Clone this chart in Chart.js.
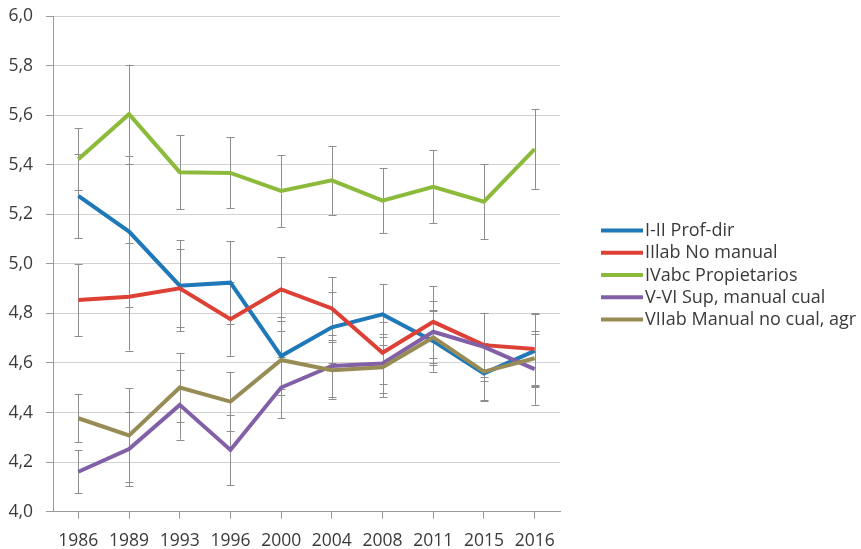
<!DOCTYPE html>
<html>
<head>
<meta charset="utf-8">
<script src="https://cdn.jsdelivr.net/npm/chart.js@4.4.1/dist/chart.umd.min.js"></script>
<style>
  html, body { margin: 0; padding: 0; background: #ffffff; }
  #wrap { width: 861px; height: 549px; }
</style>
</head>
<body>
<div id="wrap"><canvas id="c" width="861" height="549"></canvas></div>
<script>
// Survey years on the category axis
const years = ['1986', '1989', '1993', '1996', '2000', '2004', '2008', '2011', '2015', '2016'];

// Value axis labels (decimal comma)
const yTickLabels = ['4,0', '4,2', '4,4', '4,6', '4,8', '5,0', '5,2', '5,4', '5,6', '5,8', '6,0'];

// Series names
const seriesNames = [
  'I-II Prof-dir',
  'IIlab No manual',
  'IVabc Propietarios',
  'V-VI Sup, manual cual',
  'VIIab Manual no cual, agr'
];

// Mean values per class
const profDir      = [5.274, 5.130, 4.912, 4.924, 4.628, 4.744, 4.796, 4.688, 4.558, 4.649];
const noManual     = [4.854, 4.867, 4.901, 4.777, 4.897, 4.820, 4.641, 4.766, 4.672, 4.656];
const propietarios = [5.422, 5.604, 5.370, 5.367, 5.294, 5.337, 5.255, 5.311, 5.251, 5.463];
const supManual    = [4.161, 4.253, 4.431, 4.249, 4.501, 4.588, 4.598, 4.726, 4.665, 4.575];
const manualNoCual = [4.377, 4.308, 4.501, 4.444, 4.612, 4.571, 4.583, 4.703, 4.565, 4.619];

// Half-width of the confidence interval for each mean
const profDirErr      = [0.170, 0.305, 0.183, 0.168, 0.158, 0.143, 0.122, 0.123, 0.110, 0.147];
const noManualErr     = [0.146, 0.217, 0.157, 0.148, 0.129, 0.127, 0.125, 0.144, 0.130, 0.146];
const propietariosErr = [0.125, 0.200, 0.150, 0.143, 0.145, 0.139, 0.132, 0.148, 0.151, 0.160];
const supManualErr    = [0.087, 0.150, 0.140, 0.143, 0.124, 0.125, 0.120, 0.125, 0.137, 0.143];
const manualNoCualErr = [0.097, 0.190, 0.140, 0.120, 0.116, 0.115, 0.120, 0.110, 0.115, 0.110];

const seriesColors = ['#1f78b8', '#dd4034', '#8cbb3c', '#8260a8', '#978c55'];

const seriesValues = [profDir, noManual, propietarios, supManual, manualNoCual];
const seriesErrors = [profDirErr, noManualErr, propietariosErr, supManualErr, manualNoCualErr];

const FONT = '"Open Sans", "DejaVu Sans", sans-serif';
const TEXT_COLOR = '#3a3a3a';

// Vertical interval bars with caps, drawn beneath the lines
const errorBarPlugin = {
  id: 'errorBars',
  beforeDatasetsDraw(chart) {
    const ctx = chart.ctx;
    const yScale = chart.scales.y;
    ctx.save();
    ctx.strokeStyle = '#8e8e8e';
    ctx.lineWidth = 1;
    chart.data.datasets.forEach((ds, di) => {
      const meta = chart.getDatasetMeta(di);
      const errs = seriesErrors[di];
      meta.data.forEach((pt, i) => {
        const v = ds.data[i];
        const e = errs[i];
        const x = Math.round(pt.x) + 0.5;
        const yTop = yScale.getPixelForValue(v + e);
        const yBot = yScale.getPixelForValue(v - e);
        ctx.beginPath();
        ctx.moveTo(x, yTop);
        ctx.lineTo(x, yBot);
        ctx.moveTo(x - 4, Math.round(yTop) + 0.5);
        ctx.lineTo(x + 4, Math.round(yTop) + 0.5);
        ctx.moveTo(x - 4, Math.round(yBot) + 0.5);
        ctx.lineTo(x + 4, Math.round(yBot) + 0.5);
        ctx.stroke();
      });
    });
    ctx.restore();
  }
};

// Line-sample legend to the right of the plot
const sideLegendPlugin = {
  id: 'sideLegend',
  afterDraw(chart) {
    const ctx = chart.ctx;
    const x0 = chart.chartArea.right + 41;
    const lineLen = 42;
    const rowH = 22.2;
    const n = chart.data.datasets.length;
    const yMid = 275;
    ctx.save();
    ctx.font = '18px ' + FONT;
    ctx.textBaseline = 'middle';
    ctx.textAlign = 'left';
    chart.data.datasets.forEach((ds, i) => {
      const y = yMid + (i - (n - 1) / 2) * rowH;
      ctx.strokeStyle = ds.borderColor;
      ctx.lineWidth = 4;
      ctx.beginPath();
      ctx.moveTo(x0, y);
      ctx.lineTo(x0 + lineLen, y);
      ctx.stroke();
      ctx.fillStyle = TEXT_COLOR;
      ctx.fillText(ds.label, x0 + lineLen + 2, y + 0.5);
    });
    ctx.restore();
  }
};

const datasets = seriesNames.map((name, i) => ({
  label: name,
  data: seriesValues[i],
  borderColor: seriesColors[i],
  backgroundColor: seriesColors[i],
  borderWidth: 4,
  pointRadius: 0,
  pointHoverRadius: 0,
  tension: 0,
  fill: false,
  order: seriesNames.length - i
}));

new Chart(document.getElementById('c'), {
  type: 'line',
  data: { labels: years, datasets },
  plugins: [errorBarPlugin, sideLegendPlugin],
  options: {
    responsive: false,
    animation: false,
    devicePixelRatio: 1,
    layout: { padding: { top: 16, right: 301, left: 0, bottom: 0 } },
    plugins: {
      legend: { display: false },
      tooltip: { enabled: false },
      title: { display: false }
    },
    scales: {
      x: {
        offset: true,
        grid: {
          display: true,
          offset: false,
          drawOnChartArea: false,
          drawTicks: true,
          tickLength: 7,
          tickColor: '#9a9a9a'
        },
        border: { display: true, color: '#9a9a9a', width: 1 },
        ticks: {
          color: TEXT_COLOR,
          font: { family: FONT, size: 17.5 },
          padding: 12,
          maxRotation: 0,
          autoSkip: false
        },
        afterFit(scale) { scale.height = 37.3; }
      },
      y: {
        min: 4,
        max: 6,
        ticks: {
          stepSize: 0.2,
          color: TEXT_COLOR,
          font: { family: FONT, size: 17.5, lineHeight: 1 },
          padding: 13,
          callback: (value, index) => yTickLabels[index]
        },
        grid: {
          color: '#d2d2d2',
          lineWidth: 1,
          drawTicks: true,
          tickLength: 7,
          tickColor: '#9a9a9a'
        },
        border: { display: true, color: '#9a9a9a', width: 1 },
        afterFit(scale) {
          scale.width = 53;
          scale.paddingTop = 0;
          scale.paddingBottom = 0;
        }
      }
    }
  }
});
</script>
</body>
</html>
